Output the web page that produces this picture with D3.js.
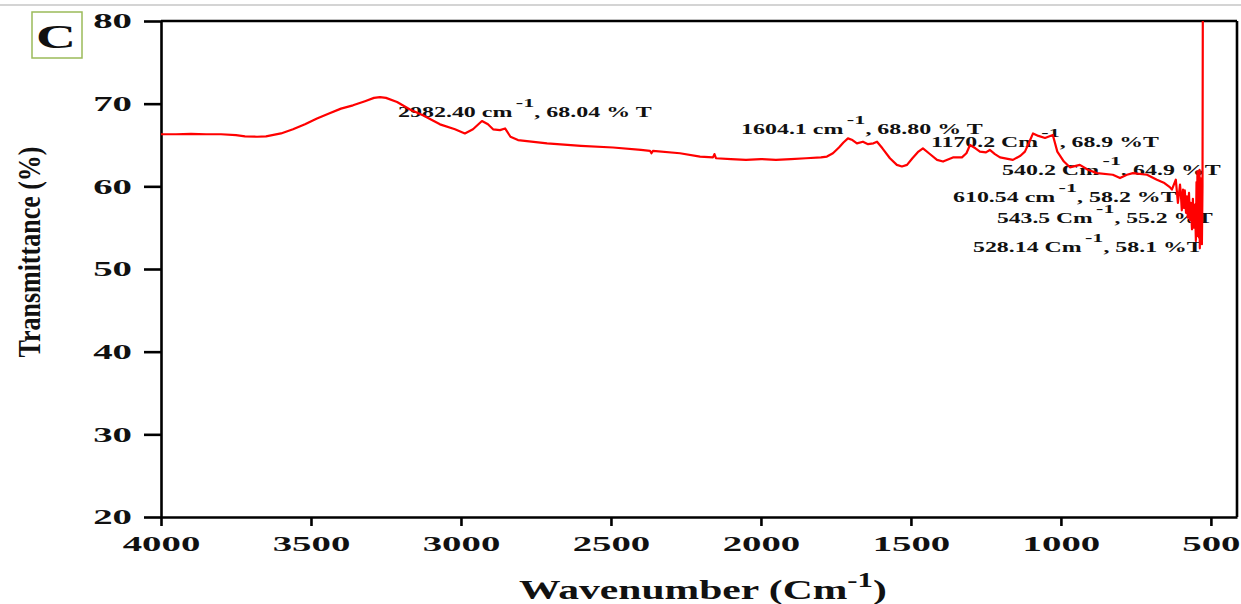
<!DOCTYPE html>
<html>
<head>
<meta charset="utf-8">
<script src="https://cdn.jsdelivr.net/npm/d3@7"></script>
<style>
  html, body { margin: 0; padding: 0; background: #fff; }
  svg { display: block; }
  text { font-family: "Liberation Serif", "Times New Roman", serif; font-weight: bold; fill: #111; }
</style>
</head>
<body>
<svg id="chart" width="1241" height="604"></svg>
<script>
// FTIR spectrum: wavenumber (cm-1) and transmittance (%)
const wavenumber = [
  4000, 3950, 3900, 3850, 3800, 3750, 3720, 3680, 3650, 3600, 3560, 3520, 3480, 3440,
  3400, 3360, 3320, 3290, 3270, 3250, 3213, 3170, 3127, 3070, 3020, 2987, 2960, 2930,
  2910, 2893, 2870, 2853, 2835, 2810, 2713, 2600, 2493, 2400, 2370, 2365, 2360, 2270,
  2203, 2160, 2155, 2150, 2100, 2050, 2000, 1950, 1900, 1850, 1800, 1780, 1760, 1740,
  1725, 1710, 1695, 1680, 1660, 1643, 1625, 1613, 1595, 1570, 1547, 1530, 1513, 1495,
  1475, 1460, 1440, 1413, 1393, 1360, 1330, 1315, 1303, 1285, 1270, 1250, 1237, 1220,
  1203, 1160, 1135, 1120, 1105, 1093, 1075, 1053, 1027, 1012, 990, 970, 937, 910,
  880, 827, 803, 780, 760, 713, 680, 655,
  637, 630, 617, 610, 603, 600, 597, 593, 590, 587, 583, 580, 577, 573, 570, 567, 563,
  560, 557, 553, 550, 548, 546, 545, 543, 541, 540, 538, 537, 535, 533, 531, 530, 528, 527
];
const transmittance = [
  66.3, 66.3, 66.35, 66.3, 66.3, 66.2, 66.05, 66.0, 66.05, 66.4, 66.9, 67.5, 68.2, 68.8,
  69.4, 69.8, 70.3, 70.7, 70.8, 70.7, 70.2, 69.3, 68.6, 67.5, 66.9, 66.4, 66.9, 67.9,
  67.5, 66.9, 66.8, 67.0, 66.0, 65.6, 65.2, 64.9, 64.7, 64.4, 64.3, 64.0, 64.3, 64.0,
  63.6, 63.5, 63.9, 63.4, 63.3, 63.2, 63.3, 63.2, 63.3, 63.4, 63.5, 63.6, 64.0, 64.7,
  65.3, 65.8, 65.6, 65.2, 65.4, 65.1, 65.2, 65.4, 64.6, 63.4, 62.6, 62.4, 62.6, 63.4,
  64.2, 64.6, 64.0, 63.2, 63.0, 63.5, 63.5, 64.0, 65.0, 64.6, 64.2, 64.1, 64.4, 63.9,
  63.5, 63.2, 63.7, 64.2, 65.4, 66.4, 66.1, 65.85, 66.2, 64.2, 63.0, 62.3, 62.6, 62.0,
  61.6, 61.4, 61.0, 61.4, 61.6, 61.4, 60.8, 60.4,
  59.9, 59.6, 60.8, 58.0, 60.2, 59.0, 57.1, 59.6, 57.4, 59.5, 56.8, 58.8, 56.2, 59.2, 55.9, 58.0, 54.8,
  58.5, 55.0, 57.8, 53.4, 60.5, 54.0, 61.8, 54.5, 61.5, 53.8, 62.0, 52.5, 61.0, 53.1, 59.0, 53.0, 60.0, 80.0
];

const xTicks = [4000, 3500, 3000, 2500, 2000, 1500, 1000, 500];
const yTicks = [20, 30, 40, 50, 60, 70, 80];

// Peak annotations
const annWavenumber = ["2982.40", "1604.1", "1170.2", "540.2", "610.54", "543.5", "528.14"];
const annTransmittance = ["68.04", "68.80", "68.9", "64.9", "58.2", "55.2", "58.1"];
const annUnit = ["cm", "cm", "Cm", "Cm", "cm", "Cm", "Cm"];
const annSuffix = [" % T", " % T", " %T", " %T", " %T", " %T", " %T"];

// Layout
const plot = { left: 161, right: 1237, top: 21, bottom: 517 };
const labelBox = [
  [398, 653, 117], [741, 984, 134], [931, 1160, 147], [1002, 1222, 175],
  [953, 1178, 202], [997, 1214, 223], [973, 1204, 252]
];

const svg = d3.select("#chart");

const x = d3.scaleLinear().domain([4000, 413]).range([plot.left, plot.right]);
const y = d3.scaleLinear().domain([20, 80]).range([plot.bottom, plot.top]);

// stretch a text element horizontally so it spans [x0, x0 + width]
function fitText(sel, x0, width) {
  const bb = sel.node().getBBox();
  const sx = width / bb.width;
  sel.attr("transform", `translate(${x0},0) scale(${sx},1) translate(${-bb.x},0)`);
}

// thin rule across the top of the page
svg.append("line")
  .attr("x1", 0).attr("x2", 1241).attr("y1", 5).attr("y2", 5)
  .attr("stroke", "#d4d4d4").attr("stroke-width", 2);

// panel letter
svg.append("rect")
  .attr("x", 32).attr("y", 12).attr("width", 50).attr("height", 46)
  .attr("fill", "none").attr("stroke", "#9bbb59").attr("stroke-width", 1.5);
svg.append("text")
  .attr("x", 56).attr("y", 48).attr("text-anchor", "middle")
  .attr("font-size", 34).attr("textLength", 40).attr("lengthAdjust", "spacingAndGlyphs")
  .text("C");

// axes
const yAxis = svg.append("g")
  .attr("transform", `translate(${plot.left},0)`)
  .call(d3.axisLeft(y).tickValues(yTicks).tickFormat(d3.format("d"))
    .tickSize(17).tickPadding(12).tickSizeOuter(0));
const xAxis = svg.append("g")
  .attr("transform", `translate(0,${plot.bottom})`)
  .call(d3.axisBottom(x).tickValues(xTicks).tickFormat(d3.format("d"))
    .tickSize(9).tickPadding(10).tickSizeOuter(0));

[yAxis, xAxis].forEach(g => {
  g.selectAll("path.domain, line").attr("stroke", "#000").attr("stroke-width", 2.6);
  g.selectAll("text")
    .attr("font-family", "Liberation Serif, Times New Roman, serif")
    .attr("font-weight", "bold")
    .attr("font-size", 21)
    .attr("fill", "#111")
    .attr("lengthAdjust", "spacingAndGlyphs")
    .attr("textLength", function () { return this.textContent.length * 19.4; });
});

// frame: top and right edges
svg.append("line")
  .attr("x1", plot.left).attr("x2", plot.right).attr("y1", plot.top).attr("y2", plot.top)
  .attr("stroke", "#000").attr("stroke-width", 2.6);
svg.append("line")
  .attr("x1", plot.right).attr("x2", plot.right).attr("y1", plot.top).attr("y2", plot.bottom)
  .attr("stroke", "#000").attr("stroke-width", 2.6);

// axis titles
svg.append("text")
  .attr("transform", "translate(40,252) rotate(-90)")
  .attr("text-anchor", "middle")
  .attr("font-size", 32)
  .attr("textLength", 211).attr("lengthAdjust", "spacingAndGlyphs")
  .text("Transmittance (%)");

const xTitle = svg.append("text").attr("x", 0).attr("y", 599).attr("font-size", 27);
xTitle.append("tspan").text("Wavenumber (Cm");
xTitle.append("tspan").attr("dy", -12).attr("font-size", 20).text("-1");
xTitle.append("tspan").attr("dy", 12).text(")");
fitText(xTitle, 519, 368);

// peak annotations
annWavenumber.forEach((wn, i) => {
  const [x0, x1, base] = labelBox[i];
  const t = svg.append("text").attr("x", 0).attr("y", base).attr("font-size", 14);
  t.append("tspan").text(`${wn} ${annUnit[i]}`);
  t.append("tspan").attr("dx", 2).attr("dy", -10).attr("font-size", 13).text("-1");
  t.append("tspan").attr("dy", 10).text(`, ${annTransmittance[i]}${annSuffix[i]}`);
  fitText(t, x0, x1 - x0);
});

// spectrum
svg.append("clipPath").attr("id", "plot-clip")
  .append("rect")
  .attr("x", plot.left).attr("y", plot.top - 1)
  .attr("width", plot.right - plot.left).attr("height", plot.bottom - plot.top + 1);

const line = d3.line()
  .x((d, i) => x(wavenumber[i]))
  .y((d, i) => y(transmittance[i]));

svg.append("path")
  .datum(transmittance)
  .attr("clip-path", "url(#plot-clip)")
  .attr("fill", "none")
  .attr("stroke", "#ff0000")
  .attr("stroke-width", 2.2)
  .attr("stroke-linejoin", "round")
  .attr("d", line);
</script>
</body>
</html>
